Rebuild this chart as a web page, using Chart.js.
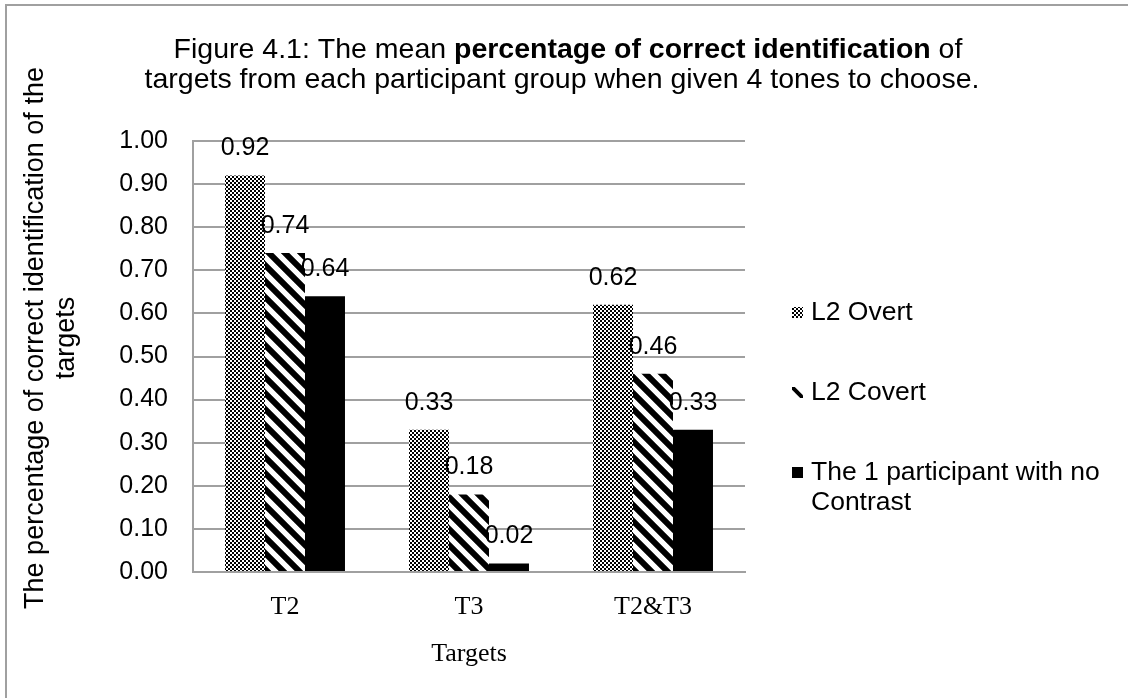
<!DOCTYPE html>
<html>
<head>
<meta charset="utf-8">
<script src="https://cdn.jsdelivr.net/npm/chart.js@4/dist/chart.umd.min.js"></script>
<style>
  html, body { margin: 0; padding: 0; background: #fff; }
  #wrap { position: relative; width: 1128px; height: 698px; }
</style>
</head>
<body>
<div id="wrap"><canvas id="c" width="1128" height="698"></canvas></div>
<script>
// ---- data ----
const categories = ["T2", "T3", "T2&T3"];
const seriesNames = ["L2 Overt", "L2 Covert", "The 1 participant with no Contrast"];
const l2Overt = [0.92, 0.33, 0.62];
const l2Covert = [0.74, 0.18, 0.46];
const noContrast = [0.64, 0.02, 0.33];
const yTicks = [0, 0.1, 0.2, 0.3, 0.4, 0.5, 0.6, 0.7, 0.8, 0.9, 1.0];
const titleLine1 = [["Figure 4.1: The mean ", false], ["percentage of correct identification", true], [" of", false]];
const titleLine2 = "targets from each participant group when given 4 tones to choose.";
const yTitleLines = ["The percentage of correct identification of the", "targets"];
const xTitle = "Targets";
const legendLines = [["L2 Overt"], ["L2 Covert"], ["The 1 participant with no", "Contrast"]];

// ---- patterns ----
function checkerPattern() {
  const p = document.createElement('canvas');
  p.width = 4; p.height = 4;
  const g = p.getContext('2d');
  g.fillStyle = '#fff'; g.fillRect(0, 0, 4, 4);
  g.fillStyle = '#000';
  g.fillRect(0, 0, 2, 2); g.fillRect(2, 2, 2, 2);
  return g.createPattern(p, 'repeat');
}
function stripePattern() {
  const s = 16;
  const p = document.createElement('canvas');
  p.width = s; p.height = s;
  const g = p.getContext('2d');
  g.fillStyle = '#fff'; g.fillRect(0, 0, s, s);
  g.strokeStyle = '#000'; g.lineWidth = 6;
  g.beginPath();
  g.moveTo(-s, -s); g.lineTo(2 * s, 2 * s);
  g.moveTo(-s, 0); g.lineTo(s, 2 * s);
  g.moveTo(0, -s); g.lineTo(2 * s, s);
  g.stroke();
  return g.createPattern(p, 'repeat');
}
const fills = [checkerPattern(), stripePattern(), '#000'];

const SANS = '"Liberation Sans", Arial, sans-serif';
const SERIF = '"Liberation Serif", "Times New Roman", serif';

const decorPlugin = {
  id: 'decor',
  beforeDraw(chart) {
    const ctx = chart.ctx;
    ctx.save();
    ctx.fillStyle = '#fff';
    ctx.fillRect(0, 0, chart.width, chart.height);
    ctx.strokeStyle = '#a0a0a0';
    ctx.lineWidth = 2;
    ctx.beginPath();
    ctx.moveTo(6, 698); ctx.lineTo(6, 5); ctx.lineTo(1128, 5);
    ctx.stroke();
    ctx.restore();
  },
  afterDatasetsDraw(chart) {
    const ctx = chart.ctx;
    ctx.save();
    ctx.fillStyle = '#000';
    ctx.font = '25px ' + SANS;
    ctx.textAlign = 'center';
    ctx.textBaseline = 'alphabetic';
    chart.data.datasets.forEach((ds, di) => {
      const meta = chart.getDatasetMeta(di);
      meta.data.forEach((el, i) => {
        ctx.fillText(ds.data[i].toFixed(2), el.x, el.y - 20);
      });
    });
    ctx.restore();
  },
  afterDraw(chart) {
    const ctx = chart.ctx;
    ctx.save();
    ctx.fillStyle = '#000';
    ctx.textBaseline = 'alphabetic';
    // title
    const fs = 28.5;
    const fontN = fs + 'px ' + SANS, fontB = 'bold ' + fs + 'px ' + SANS;
    let total = 0;
    titleLine1.forEach(([t, b]) => { ctx.font = b ? fontB : fontN; total += ctx.measureText(t).width; });
    let x = 568 - total / 2;
    ctx.textAlign = 'left';
    titleLine1.forEach(([t, b]) => { ctx.font = b ? fontB : fontN; ctx.fillText(t, x, 58); x += ctx.measureText(t).width; });
    ctx.font = fontN;
    ctx.textAlign = 'center';
    ctx.fillText(titleLine2, 562, 88);
    // y title
    ctx.save();
    ctx.translate(0, 338);
    ctx.rotate(-Math.PI / 2);
    ctx.font = '27px ' + SANS;
    ctx.textAlign = 'center';
    ctx.fillText(yTitleLines[0], 0, 43);
    ctx.fillText(yTitleLines[1], 0, 74);
    ctx.restore();
    // legend
    const ly = [320, 400, 480];
    ctx.font = '26.5px ' + SANS;
    ctx.textAlign = 'left';
    legendLines.forEach((lines, i) => {
      const sx = 792, sy = ly[i] - 13, sw = 11, sh = 11;
      if (i === 1) {
        ctx.save();
        ctx.beginPath(); ctx.rect(sx, sy, sw, sh); ctx.clip();
        ctx.strokeStyle = '#000'; ctx.lineWidth = 4;
        ctx.beginPath(); ctx.moveTo(sx - 2, sy - 2); ctx.lineTo(sx + sw + 2, sy + sh + 2); ctx.stroke();
        ctx.restore();
      } else {
        ctx.fillStyle = fills[i];
        ctx.fillRect(sx, sy, sw, sh);
      }
      ctx.fillStyle = '#000';
      lines.forEach((ln, k) => ctx.fillText(ln, 811, ly[i] + k * 30));
    });
    ctx.restore();
  }
};

const datasets = [l2Overt, l2Covert, noContrast].map((d, i) => ({
  label: seriesNames[i],
  data: d,
  backgroundColor: fills[i],
  borderWidth: 0,
  barPercentage: 1.0,
  categoryPercentage: 0.652
}));

new Chart(document.getElementById('c'), {
  type: 'bar',
  data: { labels: categories, datasets },
  plugins: [decorPlugin],
  options: {
    responsive: false,
    animation: false,
    devicePixelRatio: 1,
    layout: { padding: { left: 0, top: 141, right: 383, bottom: 24 } },
    plugins: { legend: { display: false }, title: { display: false }, tooltip: { enabled: false } },
    scales: {
      x: {
        grid: { display: false, drawTicks: false },
        border: { display: true, color: '#a0a0a0', width: 2 },
        ticks: { color: '#000', font: { family: SERIF, size: 26 }, padding: 20 },
        title: { display: true, text: xTitle, color: '#000', font: { family: SERIF, size: 26 }, padding: { top: 6 } },
        afterFit(scale) { scale.height = 102; }
      },
      y: {
        min: 0, max: 1,
        afterBuildTicks(scale) { scale.ticks = yTicks.map(v => ({ value: v })); },
        grid: { color: '#a0a0a0', lineWidth: 2, drawTicks: false },
        border: { display: true, color: '#a0a0a0', width: 2 },
        ticks: { color: '#000', font: { family: SANS, size: 25 }, padding: 25, callback: v => v.toFixed(2) },
        afterFit(scale) { scale.width = 193; }
      }
    }
  }
});
</script>
</body>
</html>
